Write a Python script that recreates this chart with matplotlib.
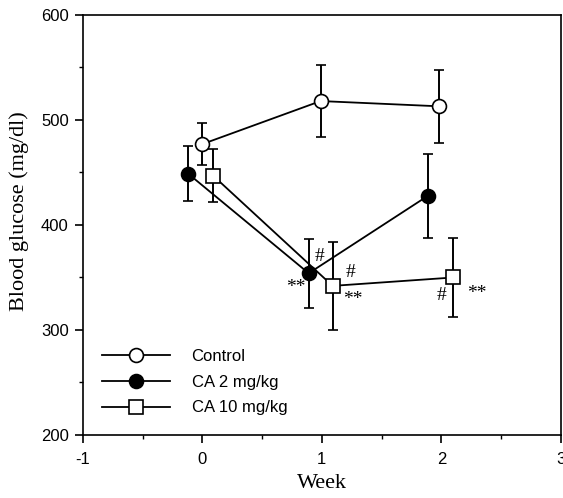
import matplotlib
matplotlib.use("Agg")
import matplotlib.pyplot as plt
from matplotlib.ticker import MultipleLocator

plt.rcParams["axes.unicode_minus"] = False

# weeks (slightly offset per group as in the original figure)
week_ctrl = [0.0, 0.99, 1.98]
week_ca2 = [-0.12, 0.89, 1.89]
week_ca10 = [0.09, 1.09, 2.10]

gluc_ctrl = [477, 518, 513]
gluc_ca2 = [449, 354, 428]
gluc_ca10 = [447, 342, 350]

err_ctrl = [20, 34, 35]
err_ca2 = [26, 33, 40]
err_ca10 = [25, 42, 38]

labels = ["Control", "CA 2 mg/kg", "CA 10 mg/kg"]

# significance marks: (text, x, y)
marks = [("**", 0.78, 340), ("#", 0.98, 370),
         ("#", 1.24, 355), ("**", 1.26, 329),
         ("#", 2.00, 333), ("**", 2.30, 335)]

SANS = ["Liberation Sans", "DejaVu Sans"]
SERIF = ["Liberation Serif", "DejaVu Serif"]

fig = plt.figure(figsize=(5.63, 4.98), dpi=100)
ax = fig.add_axes([0.147, 0.1265, 0.8494, 0.8435])

common = dict(color="black", lw=1.3, capsize=3.5, elinewidth=1.4,
              capthick=1.4, markersize=10, markeredgewidth=1.2,
              markeredgecolor="black")
ctrl = ax.errorbar(week_ctrl, gluc_ctrl, yerr=err_ctrl, marker="o",
                   markerfacecolor="white", **common)
ca2 = ax.errorbar(week_ca2, gluc_ca2, yerr=err_ca2, marker="o",
                  markerfacecolor="black", **common)
ca10 = ax.errorbar(week_ca10, gluc_ca10, yerr=err_ca10, marker="s",
                   markerfacecolor="white", **common)

for txt, x, y in marks:
    ax.text(x, y, txt, ha="center", va="center", fontsize=14,
            family=SERIF)

ax.set_xlim(-1, 3)
ax.set_ylim(200, 600)
ax.xaxis.set_major_locator(MultipleLocator(1))
ax.xaxis.set_minor_locator(MultipleLocator(0.5))
ax.yaxis.set_major_locator(MultipleLocator(100))
ax.yaxis.set_minor_locator(MultipleLocator(50))
ax.tick_params(which="major", direction="out", length=6, width=1.2,
               labelsize=12, pad=4)
ax.tick_params(which="minor", direction="out", length=3, width=1.0)
ax.tick_params(axis="x", which="major", pad=6)
for lab in ax.get_xticklabels() + ax.get_yticklabels():
    lab.set_family(SANS)
for sp in ax.spines.values():
    sp.set_linewidth(1.2)

ax.set_xlabel("Week", family=SERIF, fontsize=16, labelpad=5)
ax.set_ylabel("Blood glucose (mg/dl)", family=SERIF, fontsize=16)
ax.yaxis.set_label_coords(-0.112, 0.533)

# legend shows only the marker + line, not the error bars
ax.legend([ctrl[0], ca2[0], ca10[0]], labels,
          loc="upper left", bbox_to_anchor=(0.008, 0.241),
          frameon=False, handlelength=4.1, handletextpad=1.3,
          labelspacing=0.65, prop={"family": SANS, "size": 12})

fig.savefig("out.png", dpi=100)
